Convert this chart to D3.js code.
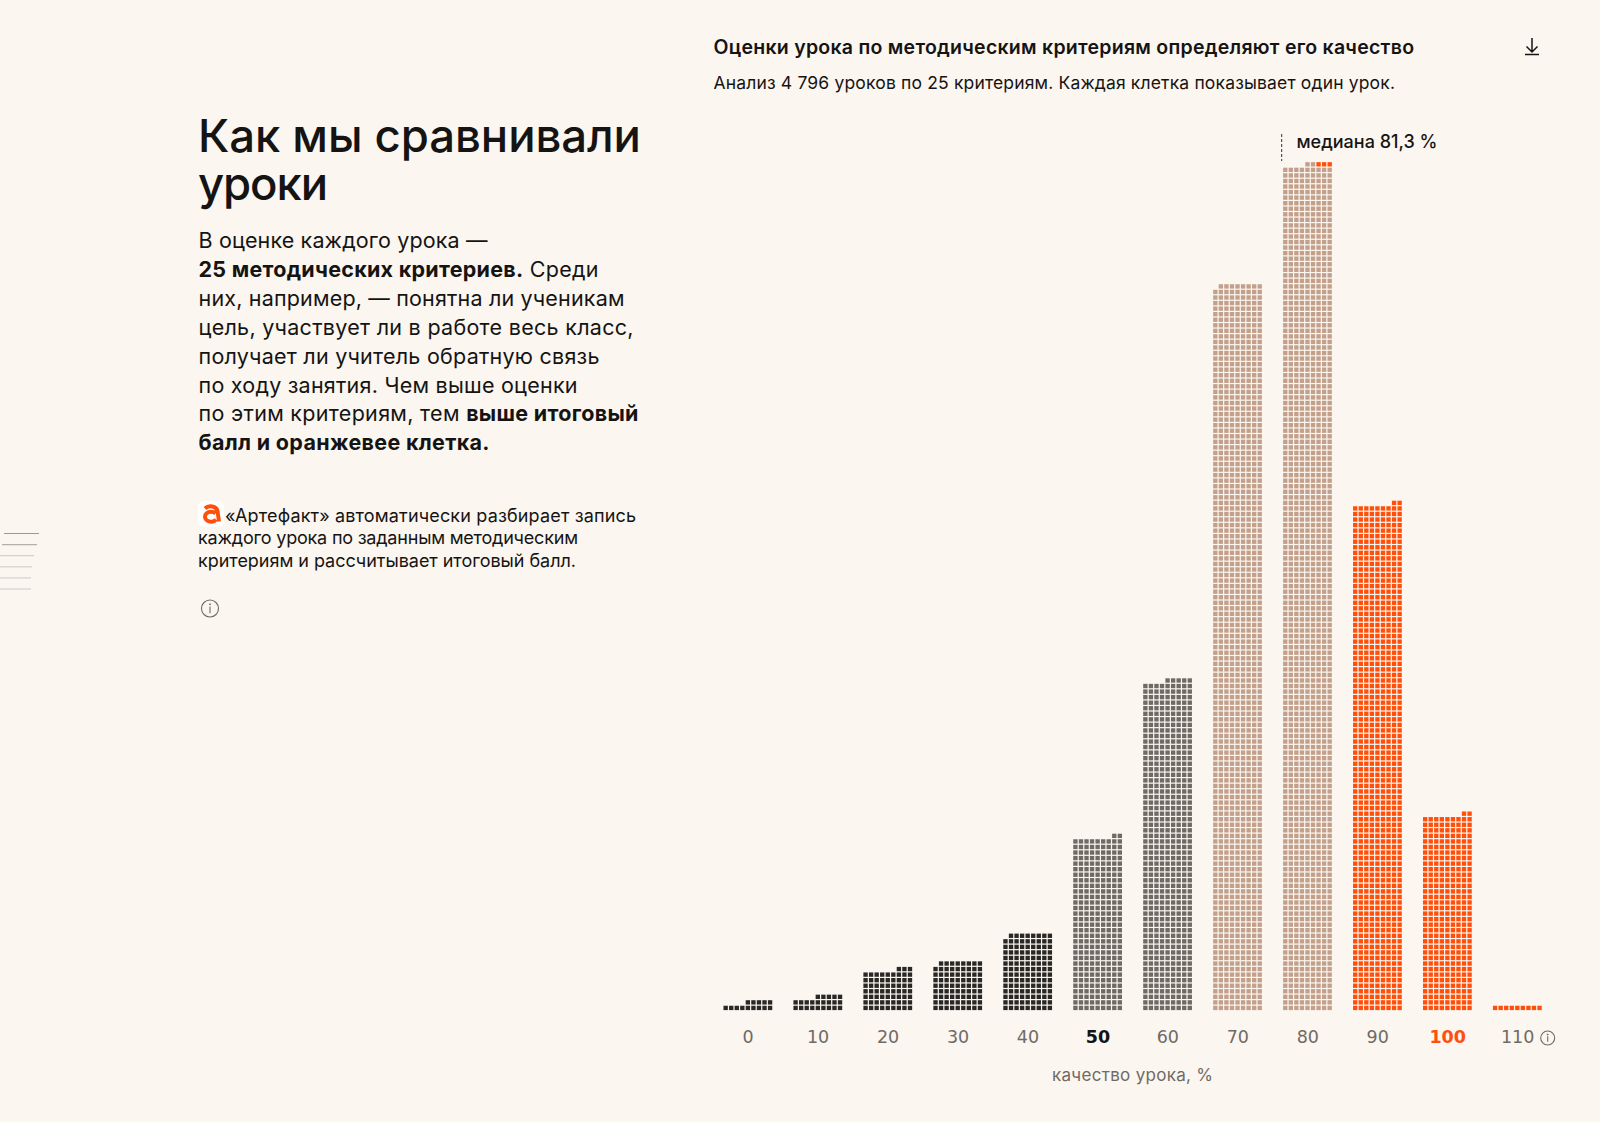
<!DOCTYPE html>
<html lang="ru">
<head>
<meta charset="utf-8">
<title>Качество уроков</title>
<script src="https://cdn.jsdelivr.net/npm/d3@7"></script>
<style>
  html, body { margin: 0; background: #fbf6f0; }
  svg { display: block; }
  text { font-family: Inter, "Noto Sans", sans-serif; fill: #151413; }
  .tick text { font-family: "DejaVu Sans", sans-serif; font-size: 17.5px; fill: #6f6a64; }
</style>
</head>
<body>
<svg id="chart" width="1600" height="1122"></svg>
<script>
// values
var categories = [0, 10, 20, 30, 40, 50, 60, 70, 80, 90, 100, 110];
var lessons = [14, 23, 66, 80, 125, 281, 536, 1178, 1373, 821, 317, 9];
var orangeOnTop = [0, 0, 0, 0, 0, 0, 0, 0, 3, 0, 0, 0];
var cellsPerRow = 9;

var title = ["Как мы сравнивали", "уроки"];
// [text, bold] runs, one list per line
var intro = [
  [["В оценке каждого урока —", 0]],
  [["25 методических критериев.", 1], [" Среди", 0]],
  [["них, например, — понятна ли ученикам", 0]],
  [["цель, участвует ли в работе весь класс,", 0]],
  [["получает ли учитель обратную связь", 0]],
  [["по ходу занятия. Чем выше оценки", 0]],
  [["по этим критериям, тем ", 0], ["выше итоговый", 1]],
  [["балл и оранжевее клетка.", 1]]
];
var introWidths = [289, 400, 426, 435, 401, 379, 440, 291];
var note = [
  "«Артефакт» автоматически разбирает запись",
  "каждого урока по заданным методическим",
  "критериям и рассчитывает итоговый балл."
];
var noteWidths = [411, 380, 378];
var navLines = [[4, 39], [2, 37], [0, 34], [0, 32], [0, 31], [0, 31]];

var svg = d3.select("#chart");
var ORANGE = "#ff4f0a", INK = "#151413", GREY = "#6f6a64";

// stretches or squeezes a line so it ends where it does in the layout
function fit(sel, width) {
  sel.each(function () {
    var len = this.getComputedTextLength();
    var n = this.textContent.length - 1;
    d3.select(this).style("letter-spacing", ((width - len) / n).toFixed(3) + "px");
  });
  return sel;
}

function line(x, y, text, size, weight, width) {
  var t = svg.append("text").attr("x", x).attr("y", y)
    .style("font-size", size + "px").style("font-weight", weight).text(text);
  return width ? fit(t, width) : t;
}

svg.append("rect").attr("width", 1600).attr("height", 1122).attr("fill", "#fbf6f0");

// left column
line(198, 152, title[0], 45.5, 500, 443);
line(198, 199.5, title[1], 45.5, 500, 130);

intro.forEach(function (runs, i) {
  var t = svg.append("text").attr("x", 198.5).attr("y", 248 + i * 28.9).style("font-size", "21.5px");
  runs.forEach(function (r) {
    t.append("tspan").style("font-weight", r[1] ? 700 : 400).text(r[0]);
  });
  fit(t, introWidths[i]);
});

note.forEach(function (s, i) {
  line(i ? 198 : 225, 522 + i * 22.4, s, 18, 400, noteWidths[i]);
});

// logo
var logo = svg.append("g").attr("transform", "translate(198,501)");
logo.append("rect").attr("width", 26).attr("height", 26).attr("rx", 6).attr("fill", "#fff");
logo.append("path")
  .attr("d", "M7 7.5 A7 5.5 0 0 1 19.5 10 L21 20.5 M17.5 12.5 A6 5 0 1 0 18 18.5")
  .attr("fill", "none").attr("stroke", ORANGE).attr("stroke-width", 4);

function infoIcon(cx, cy, r) {
  var g = svg.append("g").attr("transform", "translate(" + cx + "," + cy + ")")
    .attr("fill", "none").attr("stroke", GREY);
  g.append("circle").attr("r", r).attr("stroke-width", 1.1);
  g.append("path").attr("d", "M0 -" + (r * 0.25) + " V" + (r * 0.55)).attr("stroke-width", 1.1);
  g.append("circle").attr("cy", -r * 0.5).attr("r", 0.5).attr("fill", GREY);
}
infoIcon(210, 608.5, 8.5);

// page nav on the left edge
svg.selectAll("line.nav").data(navLines).join("line")
  .attr("class", "nav")
  .attr("x1", function (d) { return d[0]; })
  .attr("x2", function (d) { return d[1]; })
  .attr("y1", function (d, i) { return 533.5 + i * 11.1; })
  .attr("y2", function (d, i) { return 533.5 + i * 11.1; })
  .attr("stroke", function (d, i) { return i === 0 ? "#f47a4c" : i === 1 ? "#b5b0aa" : "#d6d1cb"; })
  .attr("stroke-width", 1.2);

// header
line(713.5, 54, "Оценки урока по методическим критериям определяют его качество", 19.5, 600, 700.5);
line(713.5, 89, "Анализ 4 796 уроков по 25 критериям. Каждая клетка показывает один урок.", 17.5, 400, 681.5);

svg.append("path").attr("d", "M1532 38 V52 M1526.5 46.5 L1532 52 L1537.5 46.5 M1525 54.5 H1539")
  .attr("fill", "none").attr("stroke", INK).attr("stroke-width", 1.5);

// chart
var baseline = 1010.7;
var x = d3.scaleBand().domain(categories).range([713.2, 1552.6]).paddingInner(20 / 70).paddingOuter(10 / 70);
var col = d3.scaleLinear().domain([0, cellsPerRow]).range([0, x.bandwidth()]);
var pitch = col(1);
var y = d3.scaleLinear().domain([0, 160]).range([baseline, baseline - 160 * 5.55]);
var colour = d3.scaleThreshold().domain([50, 70, 90]).range(["#2a2826", "#6f6a64", "#c2a08c", ORANGE]);
var cellSize = pitch - 1.2;

var cells = [];
categories.forEach(function (c, b) {
  var n = lessons[b];
  var partial = n % cellsPerRow;
  var offset = partial ? cellsPerRow - partial : 0;
  var fullRows = Math.floor(n / cellsPerRow);
  d3.range(n).forEach(function (i) {
    var row = Math.floor(i / cellsPerRow);
    cells.push({
      cat: c,
      row: row,
      col: i % cellsPerRow + (row === fullRows ? offset : 0),
      orange: i >= n - orangeOnTop[b]
    });
  });
});

svg.append("g").selectAll("rect").data(cells).join("rect")
  .attr("x", function (d) { return x(d.cat) + col(d.col) + 0.3; })
  .attr("y", function (d) { return y(d.row + 1) + 0.6; })
  .attr("width", cellSize)
  .attr("height", cellSize)
  .attr("fill", function (d) { return d.orange ? ORANGE : colour(d.cat); });

var axis = svg.append("g").attr("transform", "translate(0," + 1028 + ")")
  .call(d3.axisBottom(x).tickSize(0).tickPadding(3));
axis.select(".domain").remove();
axis.selectAll(".tick text")
  .style("font-weight", function (d) { return d === 50 || d === 100 ? 700 : 400; })
  .style("fill", function (d) { return d === 50 ? INK : d === 100 ? ORANGE : GREY; });
infoIcon(1547.7, 1038, 7);

fit(line(1052, 1081, "качество урока, %", 17, 400), 161).style("fill", GREY);

// median
svg.append("line").attr("x1", 1281.7).attr("x2", 1281.7).attr("y1", 134).attr("y2", 161)
  .attr("stroke", "#333").attr("stroke-width", 1).attr("stroke-dasharray", "3 2");
line(1296.5, 147.5, "медиана 81,3 %", 18, 500, 141);
</script>
</body>
</html>
